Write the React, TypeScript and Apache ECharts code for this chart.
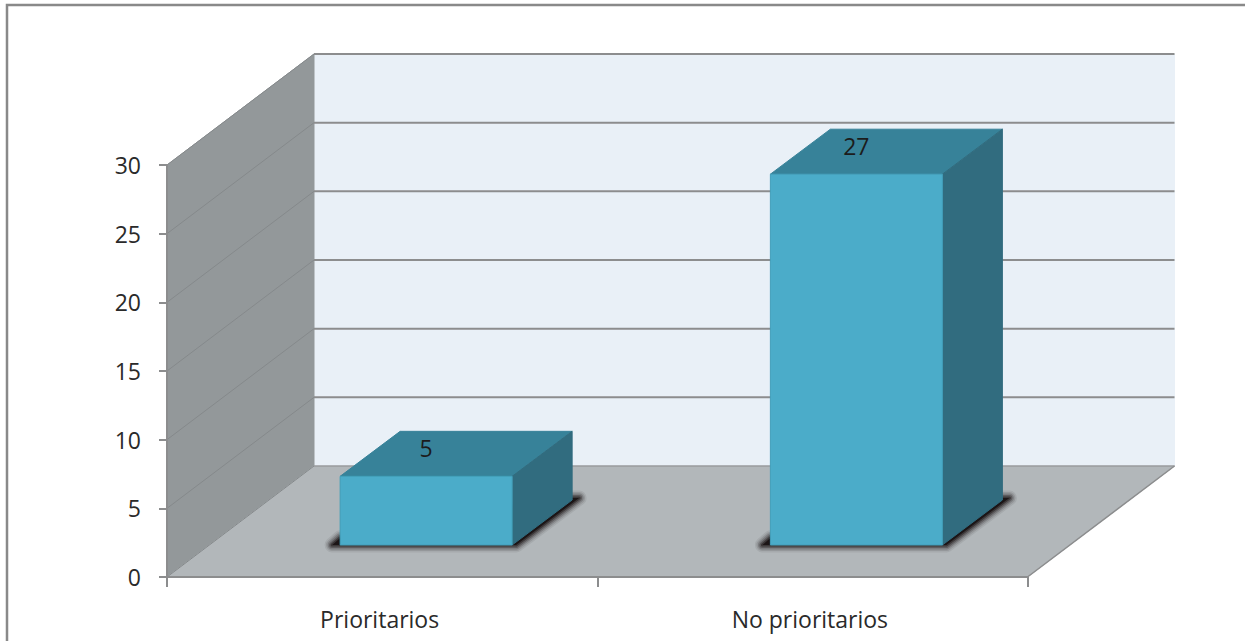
import React, { useEffect, useRef } from "react";
import * as echarts from "echarts";

const categories = ["Prioritarios", "No prioritarios"];
const counts = [5, 27];
const axisValues = [0, 5, 10, 15, 20, 25, 30];

// Projection of the chart box and of each column, in pixels.
const BOX_DX = 147;
const BOX_DY = -111;
const BAR_DX = 60;
const BAR_DY = -45;
const BAR_LIFT = 32;
const BAR_SHIFT = 44;
const BAR_HALF = 86;

// Soft contact shadow: widening translucent outlines around a dark core.
const SHADOW_WIDTHS = [15, 12, 9, 6, 3];
const SHADOW_ALPHAS = [0.08, 0.12, 0.2, 0.3, 0.5];

const FONT = "'Open Sans', sans-serif";
const LINE = "#8c8d8e";
const WALL_LINE = "#85898b";

function renderWalls(params: any) {
  const { x, y, width, height } = params.coordSys;
  const b = y + height;
  const r = x + width;
  const poly = (points: number[][], fill: string) => ({
    type: "polygon",
    shape: { points },
    style: { fill, stroke: fill, lineWidth: 1 },
  });
  return {
    type: "group",
    children: [
      poly(
        [[x + BOX_DX, y + BOX_DY], [r + BOX_DX, y + BOX_DY], [r + BOX_DX, b + BOX_DY], [x + BOX_DX, b + BOX_DY]],
        "#e9f0f7",
      ),
      poly(
        [[x, b], [x + BOX_DX, b + BOX_DY], [x + BOX_DX, y + BOX_DY], [x, y]],
        "#93989a",
      ),
      poly(
        [[x, b], [x + BOX_DX, b + BOX_DY], [r + BOX_DX, b + BOX_DY], [r, b]],
        "#b2b7ba",
      ),
      {
        type: "polyline",
        shape: { points: [[r, b], [r + BOX_DX, b + BOX_DY]] },
        style: { fill: "none", stroke: LINE, lineWidth: 1.5 },
      },
    ],
  };
}

function renderGridLine(params: any, api: any) {
  const v = api.value(0);
  const { x, width } = params.coordSys;
  const py = api.coord([0, v])[1];
  const backY = py + BOX_DY;
  return {
    type: "group",
    children: [
      {
        type: "line",
        shape: { x1: x, y1: py, x2: x + BOX_DX, y2: backY },
        style: { stroke: WALL_LINE, lineWidth: 1 },
      },
      {
        type: "line",
        shape: { x1: x + BOX_DX, y1: backY, x2: x + width + BOX_DX, y2: backY },
        style: { stroke: LINE, lineWidth: v === 0 ? 1 : 2 },
      },
    ],
  };
}

function renderColumn(_params: any, api: any) {
  const i = api.value(0);
  const v = api.value(1);
  const cx = api.coord([i, 0])[0] + BAR_SHIFT;
  const base = api.coord([i, 0])[1] - BAR_LIFT;
  const top = api.coord([i, v])[1] - BAR_LIFT;
  const l = cx - BAR_HALF;
  const r = cx + BAR_HALF;
  const rb = r + BAR_DX;
  const shadow = [
    [l - 8, base],
    [l, base - 7],
    [rb, base + BAR_DY - 2],
    [rb + 7, base + BAR_DY - 2],
    [r + 4, base],
  ];
  return {
    type: "group",
    children: [
      ...SHADOW_WIDTHS.map((w, k) => ({
        type: "polygon",
        shape: { points: shadow },
        style: {
          fill: "none",
          stroke: `rgba(25,20,20,${SHADOW_ALPHAS[k]})`,
          lineWidth: w,
          lineJoin: "round",
        },
      })),
      {
        type: "polygon",
        shape: { points: shadow },
        style: { fill: "#1c1516" },
      },
      {
        type: "polygon",
        shape: { points: [[l, top], [l + BAR_DX, top + BAR_DY], [rb, top + BAR_DY], [r, top]] },
        style: { fill: "#378299", stroke: "#378299", lineWidth: 1 },
      },
      {
        type: "polygon",
        shape: { points: [[r, top], [rb, top + BAR_DY], [rb, base + BAR_DY], [r, base]] },
        style: { fill: "#316c7f", stroke: "#316c7f", lineWidth: 1 },
      },
      {
        type: "rect",
        shape: { x: l, y: top, width: r - l, height: base - top },
        style: { fill: "#4bacc9", stroke: "#429fba", lineWidth: 1 },
      },
      {
        type: "text",
        style: {
          x: cx,
          y: top - 28.5,
          text: String(v),
          fill: "#1c1c1c",
          font: `23px ${FONT}`,
          align: "center",
          verticalAlign: "middle",
        },
      },
    ],
  };
}

export default function App() {
  const ref = useRef<HTMLDivElement>(null);

  useEffect(() => {
    const chart = echarts.init(ref.current!, null, { renderer: "svg" });
    chart.setOption({
      animation: false,
      backgroundColor: "#ffffff",
      grid: { left: 167, top: 165, width: 860.5, height: 412, containLabel: false },
      graphic: [
        {
          type: "polyline",
          silent: true,
          shape: { points: [[7, 641], [7, 5], [1245, 5]] },
          style: { fill: "none", stroke: "#898989", lineWidth: 2.5 },
        },
      ],
      xAxis: {
        type: "category",
        data: categories,
        boundaryGap: true,
        axisLine: { lineStyle: { color: LINE, width: 2 } },
        axisTick: { show: true, alignWithLabel: false, length: 10, lineStyle: { color: LINE, width: 2 } },
        axisLabel: {
          color: "#2a2a2a",
          fontFamily: FONT,
          fontSize: 23,
          margin: 30,
          interval: 0,
          padding: [0, 5, 0, 0],
        },
        z: 5,
      },
      yAxis: {
        type: "value",
        min: 0,
        max: 30,
        interval: 5,
        axisLine: { show: true, lineStyle: { color: LINE, width: 2 } },
        axisTick: { show: true, length: 8, lineStyle: { color: LINE, width: 2 } },
        axisLabel: { color: "#2a2a2a", fontFamily: FONT, fontSize: 23, margin: 26 },
        splitLine: { show: false },
        z: 5,
      },
      series: [
        {
          type: "custom",
          name: "walls",
          data: [[0, 0]],
          renderItem: renderWalls,
          clip: false,
          silent: true,
          z: 1,
          encode: { x: 0, y: 1 },
        },
        {
          type: "custom",
          name: "gridlines",
          data: axisValues.map((v) => [v]),
          renderItem: renderGridLine,
          clip: false,
          silent: true,
          z: 2,
          encode: { y: 0 },
        },
        {
          type: "custom",
          name: "counts",
          data: counts.map((v, i) => [i, v]),
          renderItem: renderColumn,
          clip: false,
          z: 3,
          encode: { x: 0, y: 1 },
        },
      ],
    });
    return () => chart.dispose();
  }, []);

  return <div ref={ref} style={{ position: "fixed", left: 0, top: 0, width: 1245, height: 641 }} />;
}
